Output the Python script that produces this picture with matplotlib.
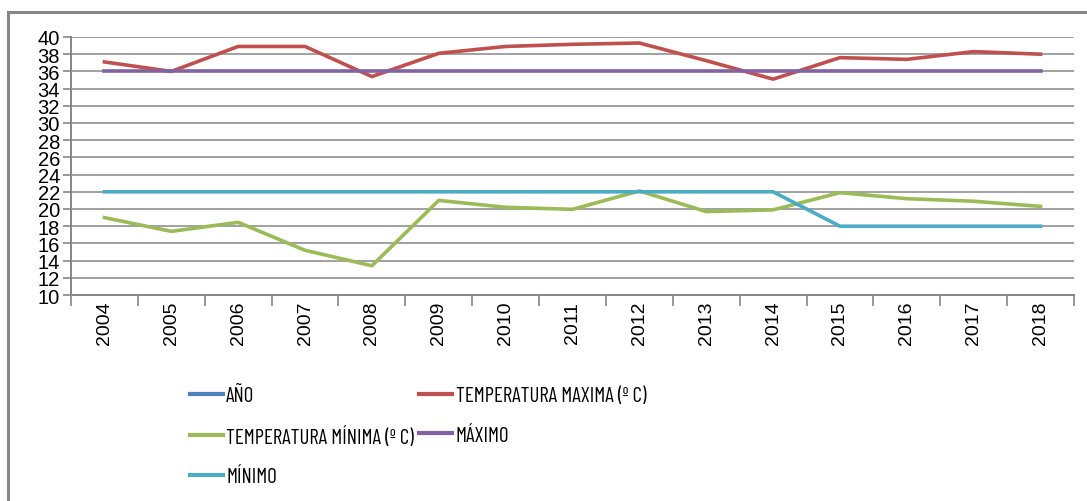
import numpy as np
import matplotlib
matplotlib.use('Agg')
import matplotlib.pyplot as plt
from matplotlib.patches import Rectangle

years = [2004, 2005, 2006, 2007, 2008, 2009, 2010, 2011, 2012, 2013, 2014, 2015, 2016, 2017, 2018]
temp_max = [37.1, 36.0, 38.9, 38.9, 35.4, 38.1, 38.9, 39.15, 39.3, 37.25, 35.1, 37.6, 37.4, 38.3, 38.0]
temp_min = [19.0, 17.4, 18.45, 15.2, 13.4, 21.0, 20.2, 19.96, 22.1, 19.7, 19.9, 21.9, 21.2, 20.9, 20.3]
maximo = [36] * 15
minimo = [22, 22, 22, 22, 22, 22, 22, 22, 22, 22, 22, 18, 18, 18, 18]
yticks = list(range(10, 41, 2))

plt.rcParams['font.family'] = ['Liberation Sans', 'DejaVu Sans']

fig = plt.figure(figsize=(10.87, 5.02), dpi=100)
W, H = 1087, 502
# chart border (cropped at right/bottom)
fig.patches.append(Rectangle((8 / W, -0.1), 1.2, 1 - 13 / H + 0.1, transform=fig.transFigure,
                             fill=False, edgecolor='#868686', linewidth=2.2))

ax = fig.add_axes([71 / W, 1 - 296 / H, (1074 - 71) / W, (296 - 38) / H])
x = np.arange(len(years))
lw = 2.6
l_ano, = ax.plot(x, years, color='#4F81BD', lw=lw, label='AÑO')
l_max, = ax.plot(x, temp_max, color='#C0504D', lw=lw, label='TEMPERATURA MAXIMA (º C)')
l_min, = ax.plot(x, temp_min, color='#9BBB59', lw=lw, label='TEMPERATURA MÍNIMA (º C)')
l_mx, = ax.plot(x, maximo, color='#8064A2', lw=lw, label='MÁXIMO')
l_mn, = ax.plot(x, minimo, color='#4BACC6', lw=lw, label='MÍNIMO')

ax.set_xlim(-0.5, len(years) - 0.5)
ax.set_ylim(10, 40)
ax.set_yticks(yticks)
ax.set_yticklabels([str(v) for v in yticks], fontsize=14.5)
ax.set_xticks(x)
ax.set_xticklabels([str(y) for y in years], rotation=90, fontsize=14)
ax.set_xticks(np.arange(-0.5, len(years)), minor=True)
ax.tick_params(axis='x', which='major', length=0, pad=4)
ax.tick_params(axis='x', which='minor', length=8, color='#868686', width=1.2)
ax.tick_params(axis='y', length=6, color='#868686', width=1.2, pad=2)
ax.grid(axis='y', color='#868686', lw=1.1)
ax.set_axisbelow(True)
for s in ['top', 'right']:
    ax.spines[s].set_visible(False)
for s in ['left', 'bottom']:
    ax.spines[s].set_color('#868686')
    ax.spines[s].set_linewidth(1.4)

order = [l_ano, l_min, l_mn, l_max, l_mx]
leg = fig.legend(order, [h.get_label() for h in order],
                 ncol=2, loc='upper left', bbox_to_anchor=(171 / W, 1 - 368 / H),
                 frameon=False, prop={'family': ['Barlow Condensed', 'Roboto Condensed', 'Liberation Sans'],
                                      'size': 15},
                 handlelength=1.6, handletextpad=0.15,
                 columnspacing=0.25, labelspacing=1.0)
for h in leg.legend_handles:
    h.set_linewidth(3)

fig.savefig('out.png', dpi=100)
